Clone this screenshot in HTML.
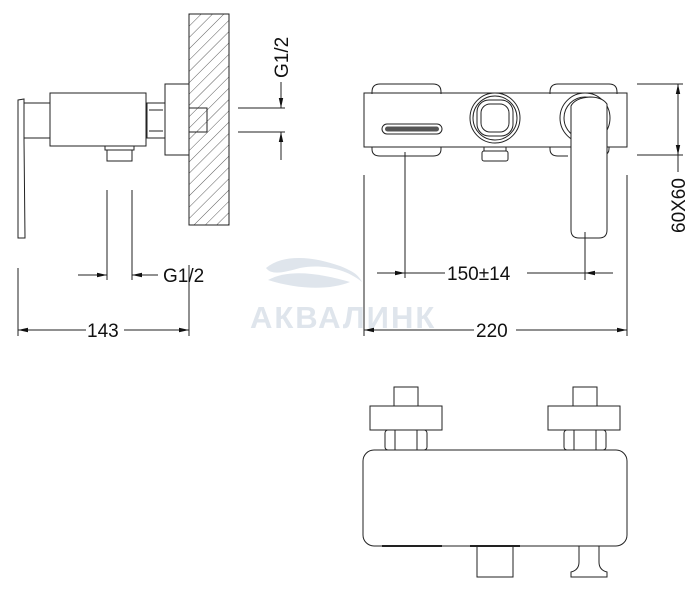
<!DOCTYPE html>
<html><head><meta charset="utf-8"><style>
html,body{margin:0;padding:0;background:#fff}
svg{display:block}
text{font-family:"Liberation Sans",Arial,sans-serif}
</style></head><body>
<svg width="700" height="589" viewBox="0 0 700 589" xmlns="http://www.w3.org/2000/svg">
<defs>
<pattern id="h" patternUnits="userSpaceOnUse" width="8" height="8" patternTransform="rotate(45)">
<line x1="0" y1="0" x2="0" y2="8" stroke="#333" stroke-width="0.8"/>
</pattern>
<marker id="a" viewBox="0 0 10 6" refX="10" refY="3" markerWidth="10" markerHeight="6" orient="auto-start-reverse" markerUnits="userSpaceOnUse">
<path d="M0,0.8 L10,3 L0,5.2z" fill="#111"/>
</marker>
</defs>

<!-- watermark -->
<g fill="#dfe5ec">
<path d="M266,268 C285,252 318,258 340,266 C352,271 358,274 362,282 C345,268 320,264 300,268 C285,272 272,276 266,268z"/>
<path d="M268,280 C290,268 322,274 350,282 C330,290 300,290 268,280z"/>
<text x="250" y="328" font-size="31" font-weight="bold" style="fill:#dfe5ec" letter-spacing="2">АКВАЛИНК</text>
</g>

<g fill="none" stroke="#222" stroke-width="1">
<rect x="189" y="14" width="40" height="211" fill="url(#h)"/>
<rect x="189" y="108" width="18" height="24" fill="#fff"/>
<rect x="189" y="108" width="18" height="24" fill="url(#h)"/>
<rect x="165" y="84" width="24" height="71"/>
<rect x="147" y="103" width="18" height="35"/>
<line x1="149" y1="110" x2="163" y2="110"/><line x1="149" y1="131" x2="163" y2="131"/>
<rect x="50" y="93" width="96" height="53"/>
<rect x="24" y="103" width="26" height="35"/>
<path d="M18,100 L24,99 L24,140 L25,238 L18,238 Z"/>
<rect x="105" y="146" width="29" height="4"/>
<rect x="107" y="150" width="25" height="11"/>
<line x1="107" y1="190" x2="107" y2="280"/><line x1="132" y1="190" x2="132" y2="280"/>
<line x1="78" y1="275" x2="107" y2="275" marker-end="url(#a)"/>
<line x1="158" y1="275" x2="132" y2="275" marker-end="url(#a)"/>
<line x1="18" y1="268" x2="18" y2="336"/><line x1="189" y1="265" x2="189" y2="336"/>
<line x1="18" y1="330" x2="86" y2="330" marker-start="url(#a)"/>
<line x1="124" y1="330" x2="189" y2="330" marker-end="url(#a)"/>
<line x1="238" y1="108" x2="285" y2="108"/><line x1="238" y1="132" x2="285" y2="132"/>
<line x1="281" y1="82" x2="281" y2="108" marker-end="url(#a)"/>
<line x1="281" y1="160" x2="281" y2="132" marker-end="url(#a)"/>

<path d="M372,94 L372,92 Q372,84 380,84 L433,84 Q441,84 441,92 L441,94"/>
<path d="M550,94 L550,92 Q550,84 558,84 L609,84 Q617,84 617,92 L617,94"/>
<path d="M372,147 L372,149 Q372,156 380,156 L433,156 Q441,156 441,149 L441,147"/>
<path d="M550,147 L550,149 Q550,156 558,156 L568,156"/>
<path d="M609,147 L609,149 Q609,154 604,155"/>
<rect x="364" y="93" width="263" height="54"/>
<rect x="382" y="124" width="60" height="10" rx="5"/>
<rect x="385" y="126.5" width="54" height="5" rx="2.5" fill="#555" stroke="none"/>
<circle cx="495" cy="118" r="25"/>
<circle cx="495" cy="118" r="22"/>
<rect x="477" y="100" width="36" height="36" rx="12"/>
<rect x="481" y="104" width="28" height="28" rx="9"/>
<rect x="484" y="147" width="22" height="4"/>
<rect x="482" y="151" width="26" height="10" rx="2"/>
<circle cx="585" cy="118" r="25"/>
<circle cx="585" cy="118" r="21"/>
<path d="M571,106 Q575,98 590,97 Q602,97 607,104 L607,230 Q607,238 599,238 L579,238 Q571,238 571,230 Z" fill="#fff"/>
<line x1="637" y1="84" x2="683" y2="84"/><line x1="637" y1="155" x2="683" y2="155"/>
<line x1="678" y1="120" x2="678" y2="84" marker-end="url(#a)"/>
<line x1="678" y1="120" x2="678" y2="155" marker-end="url(#a)"/>
<line x1="678" y1="155" x2="678" y2="172"/>
<line x1="405" y1="152" x2="405" y2="278"/><line x1="585" y1="232" x2="585" y2="280"/>
<line x1="377" y1="273" x2="405" y2="273" marker-end="url(#a)"/>
<line x1="405" y1="273" x2="445" y2="273"/>
<line x1="527" y1="273" x2="613" y2="273"/>
<line x1="613" y1="273" x2="585" y2="273" marker-end="url(#a)"/>
<line x1="364" y1="175" x2="364" y2="336"/><line x1="627" y1="175" x2="627" y2="336"/>
<line x1="364" y1="330" x2="474" y2="330" marker-start="url(#a)"/>
<line x1="516" y1="330" x2="627" y2="330" marker-end="url(#a)"/>

<rect x="394" y="387" width="24" height="19"/>
<rect x="370" y="406" width="72" height="24"/>
<rect x="385" y="430" width="42" height="20" rx="3"/>
<line x1="395" y1="430" x2="395" y2="450"/><line x1="417" y1="430" x2="417" y2="450"/>
<rect x="573" y="387" width="24" height="19"/>
<rect x="548" y="406" width="72" height="24"/>
<rect x="564" y="430" width="42" height="20" rx="3"/>
<line x1="574" y1="430" x2="574" y2="450"/><line x1="596" y1="430" x2="596" y2="450"/>
<rect x="363" y="450" width="264" height="96" rx="11"/>
<line x1="382" y1="546" x2="442" y2="546" stroke-width="2"/>
<rect x="477" y="546" width="36" height="31"/>
<line x1="470" y1="546" x2="520" y2="546" stroke-width="2"/>
<path d="M579,546 L579,562 Q579,570 571,572 L571,577 L607,577 L607,572 Q599,570 599,562 L599,546"/>
</g>

<g font-size="19" fill="#111">
<text x="163" y="282">G1/2</text>
<text x="87" y="337">143</text>
<text x="447" y="280">150±14</text>
<text x="476" y="337">220</text>
<text transform="translate(288,78) rotate(-90)">G1/2</text>
<text transform="translate(685,233) rotate(-90)">60X60</text>
</g>
</svg>
</body></html>
